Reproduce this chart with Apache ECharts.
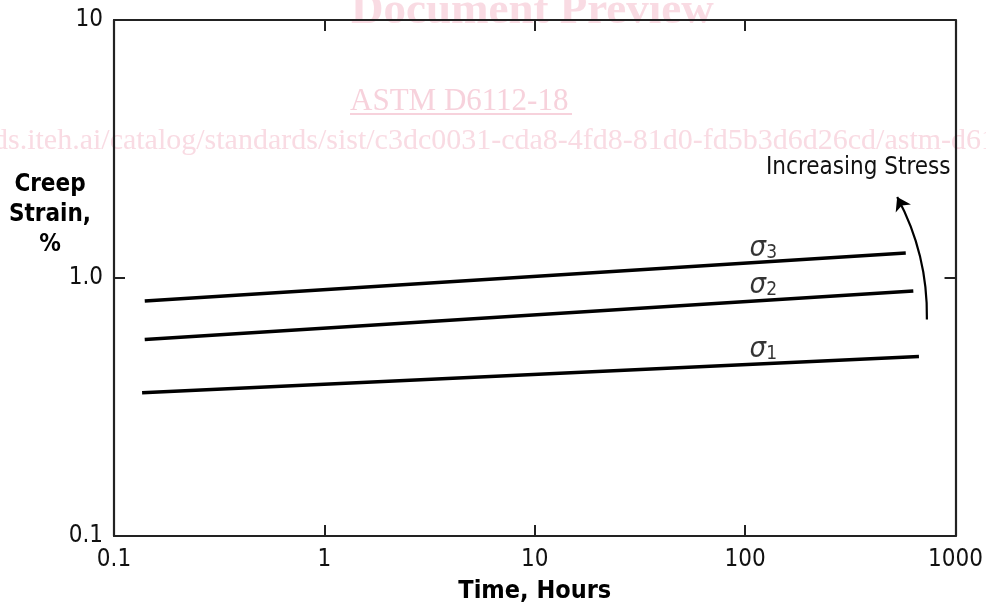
<!DOCTYPE html>
<html>
<head>
<meta charset="utf-8">
<script src="https://cdn.jsdelivr.net/npm/echarts@6/dist/echarts.min.js"></script>
<style>
html,body{margin:0;padding:0;background:#fff;overflow:hidden;width:986px;height:609px;}
#c{width:986px;height:609px;position:absolute;left:0;top:0;}
</style>
</head>
<body>
<div id="c"></div>
<script>
// ---- data ----
const xTickLabels = ['0.1', '1', '10', '100', '1000'];
const yTickLabels = ['0.1', '1.0', '10'];
const sigma1 = [[0.136, 0.359], [670, 0.496]];
const sigma2 = [[0.14, 0.578], [630, 0.89]];
const sigma3 = [[0.14, 0.814], [580, 1.25]];
const seriesNames = ['σ1', 'σ2', 'σ3'];
const seriesSubs = ['1', '2', '3'];
const sigmaLabelPos = [[122, 0.535], [122, 0.948], [122, 1.314]];
const arrowPath = [[731, 0.691], [528, 2.06]];

const SANS = "'DejaVu Sans Condensed', Roboto, sans-serif";
const SERIF = "'Liberation Serif', 'DejaVu Serif', serif";
const AX = '#222';
const WM = '#f9dbe3';

const chart = echarts.init(document.getElementById('c'), null, {renderer: 'canvas', width: 986, height: 609});

function xFmt(v) { return xTickLabels[Math.round(Math.log10(v)) + 1] || ''; }
function yFmt(v) { return yTickLabels[Math.round(Math.log10(v)) + 1] || ''; }

const axisLine = {show: true, lineStyle: {color: AX, width: 2.2}};
const tick = {show: true, inside: true, length: 11, lineStyle: {color: AX, width: 2}};

const lineSeries = [sigma1, sigma2, sigma3].map((d, i) => ({
  type: 'line',
  name: seriesNames[i],
  data: d,
  symbol: 'none',
  lineStyle: {color: '#000', width: 3.5},
  silent: true,
  z: 3
}));

const option = {
  animation: false,
  backgroundColor: '#fff',
  grid: {left: 114, right: 20, top: 20, bottom: 66, containLabel: false},
  xAxis: [
    {
      type: 'log', logBase: 10, min: 0.1, max: 1000, position: 'bottom',
      axisLine: axisLine, axisTick: tick, splitLine: {show: false}, minorTick: {show: false},
      axisLabel: {formatter: xFmt, color: '#111', fontSize: 24, fontFamily: SANS, margin: 12},
      name: 'Time, Hours', nameLocation: 'middle', nameGap: 43,
      nameTextStyle: {fontSize: 25, fontWeight: 'bold', fontFamily: SANS, color: '#000'}
    },
    {
      type: 'log', logBase: 10, min: 0.1, max: 1000, position: 'top',
      axisLine: axisLine, axisTick: tick, splitLine: {show: false}, axisLabel: {show: false}
    }
  ],
  yAxis: [
    {
      type: 'log', logBase: 10, min: 0.1, max: 10, position: 'left',
      axisLine: axisLine, axisTick: tick, splitLine: {show: false}, minorTick: {show: false},
      axisLabel: {formatter: yFmt, color: '#111', fontSize: 24, fontFamily: SANS, margin: 11}
    },
    {
      type: 'log', logBase: 10, min: 0.1, max: 10, position: 'right',
      axisLine: axisLine, axisTick: tick, splitLine: {show: false}, axisLabel: {show: false}
    }
  ],
  series: lineSeries.concat([
    {
      type: 'scatter',
      data: sigmaLabelPos.map((p, i) => ({value: p, sub: seriesSubs[i]})),
      symbolSize: 0,
      silent: true,
      z: 4,
      label: {
        show: true, position: 'inside',
        formatter: p => '{s|σ}{b|' + seriesSubs[p.dataIndex] + '}',
        rich: {
          s: {fontSize: 29, fontStyle: 'italic', fontFamily: SANS, color: '#000', verticalAlign: 'bottom'},
          b: {fontSize: 19, fontFamily: SANS, color: '#000', padding: [12, 0, 0, 0], verticalAlign: 'bottom'}
        }
      }
    },
    {
      type: 'lines',
      coordinateSystem: 'cartesian2d',
      silent: true,
      z: 4,
      symbol: ['none', 'arrow'],
      symbolSize: [0, 13],
      lineStyle: {color: '#000', width: 2.2, curveness: -0.13, opacity: 1},
      data: [{coords: arrowPath}]
    }
  ]),
  graphic: {
    elements: [
      {type: 'text', z: -10, left: 351, top: -11,
        style: {text: 'Document Preview', font: "bold 45px " + SERIF, fill: WM}},
      {type: 'text', z: -10, left: 350, top: 86,
        style: {text: 'ASTM D6112-18', font: "31px " + SERIF, fill: '#f7d2dc'}},
      {type: 'rect', z: -10, shape: {x: 350, y: 113, width: 222, height: 2}, style: {fill: '#f7d2dc'}},
      {type: 'text', z: -10, left: -177, top: 126,
        style: {text: 'https://standards.iteh.ai/catalog/standards/sist/c3dc0031-cda8-4fd8-81d0-fd5b3d6d26cd/astm-d6112-18', font: "30px " + SERIF, fill: WM}},
      {type: 'text', z: 5, left: 766, top: 156,
        style: {text: 'Increasing Stress', font: "24px " + SANS, fill: '#111'}},
      {type: 'text', z: 5, x: 50, y: 215,
        style: {text: 'Creep\nStrain,\n%', font: "bold 24px " + SANS, fill: '#000', align: 'center', verticalAlign: 'middle', lineHeight: 30}}
    ]
  }
};
chart.setOption(option);
</script>
</body>
</html>
